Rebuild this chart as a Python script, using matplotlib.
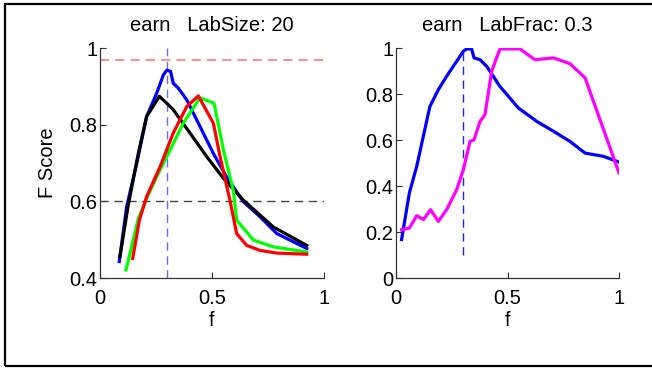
import matplotlib
matplotlib.use('Agg')
import matplotlib.pyplot as plt
from matplotlib.patches import Rectangle

# ---- data ----
# left panel: F score vs f, LabSize 20
f_blue = [0.086, 0.119, 0.164, 0.208, 0.253, 0.283, 0.298, 0.315, 0.327, 0.35, 0.387,
          0.439, 0.506, 0.565, 0.64, 0.714, 0.789, 0.923]
s_blue = [0.443, 0.586, 0.699, 0.821, 0.882, 0.93, 0.942, 0.939, 0.908, 0.895, 0.865,
          0.804, 0.725, 0.664, 0.599, 0.56, 0.516, 0.477]

f_black = [0.089, 0.126, 0.171, 0.208, 0.265, 0.298, 0.327, 0.402, 0.476, 0.551, 0.64,
           0.774, 0.923]
s_black = [0.456, 0.59, 0.725, 0.821, 0.874, 0.856, 0.839, 0.778, 0.717, 0.66, 0.603,
           0.533, 0.485]

f_green = [0.116, 0.141, 0.171, 0.208, 0.253, 0.313, 0.372, 0.446, 0.509, 0.551, 0.595,
           0.61, 0.685, 0.774, 0.923]
s_green = [0.421, 0.481, 0.555, 0.607, 0.664, 0.734, 0.804, 0.870, 0.856, 0.734, 0.629,
           0.551, 0.499, 0.481, 0.468]

f_red = [0.146, 0.176, 0.208, 0.268, 0.327, 0.387, 0.439, 0.506, 0.536, 0.58, 0.61,
         0.655, 0.714, 0.789, 0.923]
s_red = [0.451, 0.551, 0.612, 0.69, 0.778, 0.847, 0.875, 0.804, 0.717, 0.603, 0.516,
         0.485, 0.472, 0.465, 0.462]

ref_hi = 0.97
ref_lo = 0.6
lab_frac = 0.3

# right panel: LabFrac 0.3
f2_blue = [0.025, 0.06, 0.093, 0.152, 0.19, 0.227, 0.287, 0.302, 0.317, 0.339, 0.35,
           0.377, 0.407, 0.466, 0.549, 0.631, 0.706, 0.78, 0.848, 0.93, 1.0]
s2_blue = [0.167, 0.37, 0.486, 0.746, 0.819, 0.877, 0.964, 0.986, 0.996, 0.996, 0.957,
           0.949, 0.92, 0.833, 0.739, 0.681, 0.638, 0.594, 0.543, 0.529, 0.504]

f2_mag = [0.025, 0.06, 0.093, 0.123, 0.155, 0.19, 0.227, 0.272, 0.302, 0.332, 0.35,
          0.377, 0.399, 0.429, 0.466, 0.556, 0.623, 0.706, 0.78, 0.848, 1.0]
s2_mag = [0.21, 0.217, 0.271, 0.254, 0.297, 0.246, 0.297, 0.384, 0.471, 0.594, 0.601,
          0.681, 0.71, 0.899, 0.996, 0.996, 0.949, 0.957, 0.932, 0.87, 0.457]

plt.rcParams['font.family'] = ['Liberation Sans', 'DejaVu Sans']
font = {'size': 14.5}
plt.rc('font', **font)

fig = plt.figure(figsize=(6.52, 3.69), dpi=100)

# outer frame (right edge is cut off in the original)
fig.patches.append(Rectangle((4.5 / 652, 3.5 / 369), 1.0, 1 - 7.5 / 369,
                             transform=fig.transFigure, fill=False,
                             edgecolor='black', linewidth=1.6))

def style_axes(ax):
    for side in ['top', 'right']:
        ax.spines[side].set_visible(False)
    for side in ['left', 'bottom']:
        ax.spines[side].set_color('#333333')
        ax.spines[side].set_linewidth(0.9)
    ax.tick_params(direction='in', length=4, width=0.8, colors='#333333',
                   labelcolor='black', labelsize=14.5)
    ax.tick_params(axis='y', pad=2)
    ax.tick_params(axis='x', pad=8)

# left panel
ax1 = fig.add_axes([100 / 652, 1 - 278 / 369, 224 / 652, 230 / 369])
ax1.plot([0, 1], [ref_hi, ref_hi], '--', color='#ff7070', lw=1.1, dashes=(6, 4))
ax1.plot([0, 1], [ref_lo, ref_lo], '--', color='#444444', lw=1.0, dashes=(6, 4))
ax1.plot([lab_frac, lab_frac], [0.4, 1.0], '--', color='#6a6aff', lw=1.0, dashes=(6, 4))
ax1.plot(f_blue, s_blue, color='#0000ff', lw=2.3)
ax1.plot(f_black, s_black, color='black', lw=2.3)
ax1.plot(f_green, s_green, color='#00ff00', lw=2.3)
ax1.plot(f_red, s_red, color='#ff0000', lw=2.3)
ax1.set_xlim(0, 1)
ax1.set_ylim(0.4, 1)
ax1.set_xticks([0, 0.5, 1])
ax1.set_xticklabels(['0', '0.5', '1'])
ax1.set_yticks([0.4, 0.6, 0.8, 1])
ax1.set_yticklabels(['0.4', '0.6', '0.8', '1'])
ax1.set_xlabel('f', fontsize=14.5, labelpad=2)
ax1.set_ylabel('F Score', fontsize=14.5, labelpad=9)
ax1.set_title('earn   LabSize: 20', fontsize=14.5, pad=12)
style_axes(ax1)

# right panel
ax2 = fig.add_axes([396 / 652, 1 - 278 / 369, 223 / 652, 230 / 369])
ax2.plot([lab_frac, lab_frac], [0.1, 1.0], '--', color='#2020ff', lw=1.0, dashes=(6, 4))
ax2.plot(f2_blue, s2_blue, color='#0000ff', lw=2.3)
ax2.plot(f2_mag, s2_mag, color='#ff00ff', lw=2.3)
ax2.set_xlim(0, 1)
ax2.set_ylim(0, 1)
ax2.set_xticks([0, 0.5, 1])
ax2.set_xticklabels(['0', '0.5', '1'])
ax2.set_yticks([0, 0.2, 0.4, 0.6, 0.8, 1])
ax2.set_yticklabels(['0', '0.2', '0.4', '0.6', '0.8', '1'])
ax2.set_xlabel('f', fontsize=14.5, labelpad=2)
ax2.set_title('earn   LabFrac: 0.3', fontsize=14.5, pad=12)
style_axes(ax2)

fig.savefig('out.png', dpi=100)
